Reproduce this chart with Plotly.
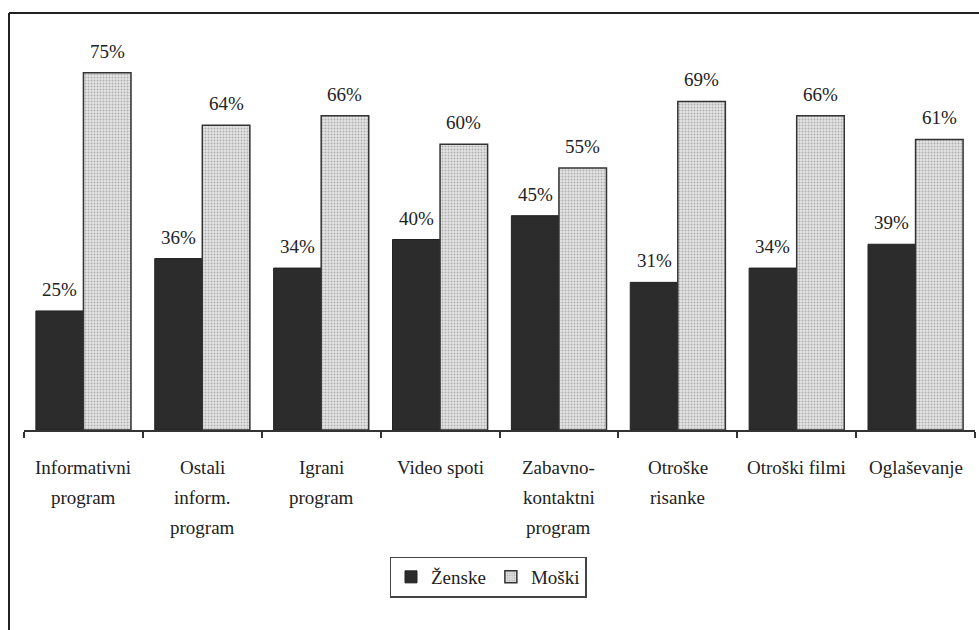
import plotly.graph_objects as go

categories = ["Informativni program", "Ostali inform. program", "Igrani program", "Video spoti",
              "Zabavno-kontaktni program", "Otroške risanke", "Otroški filmi", "Oglaševanje"]
label_lines = [["Informativni", "program"], ["Ostali", "inform.", "program"], ["Igrani", "program"],
               ["Video spoti"], ["Zabavno-", "kontaktni", "program"], ["Otroške", "risanke"],
               ["Otroški filmi"], ["Oglaševanje"]]
zenske = [25, 36, 34, 40, 45, 31, 34, 39]
moski = [75, 64, 66, 60, 55, 69, 66, 61]

FONT = "Times New Roman, Liberation Serif, DejaVu Serif, serif"
W, H = 979, 630
L, R, T, B = 24, 4, 49, 200
plot_w = W - L - R
plot_h = H - T - B

fig = go.Figure()
fig.add_trace(go.Bar(x=list(range(len(categories))), y=zenske, name="Ženske",
                     marker=dict(color="#2c2c2c", line=dict(color="#222222", width=1))))
fig.add_trace(go.Bar(x=list(range(len(categories))), y=moski, name="Moški",
                     marker=dict(color="#d6d6d6", line=dict(color="#333333", width=1.5),
                                 pattern=dict(shape=".", fgcolor="#7a7a7a", bgcolor="#e4e4e4",
                                              size=3, solidity=0.35))))

annotations = []
for i, (z, m) in enumerate(zip(zenske, moski)):
    for off, v in ((-0.2, z), (0.2, m)):
        annotations.append(dict(x=i + off, y=v, xref="x", yref="y", text=f"{v}%",
                                showarrow=False, yanchor="bottom", yshift=9,
                                font=dict(family=FONT, size=19, color="#222222")))
    for k, line in enumerate(label_lines[i]):
        annotations.append(dict(x=i, y=0, xref="x", yref="paper", text=line, showarrow=False,
                                yanchor="middle", yshift=-(37 + 30 * k),
                                font=dict(family=FONT, size=19, color="#222222")))

def px_x(p):
    return (p - L) / plot_w

def px_y(p):
    return (H - B - p) / plot_h

shapes = [
    dict(type="line", xref="paper", yref="paper", x0=px_x(9), x1=px_x(979), y0=px_y(13), y1=px_y(13),
         line=dict(color="#222222", width=2)),
    dict(type="line", xref="paper", yref="paper", x0=px_x(9), x1=px_x(9), y0=px_y(13), y1=px_y(630),
         line=dict(color="#222222", width=2)),
]

fig.update_layout(
    width=W, height=H,
    margin=dict(l=L, r=R, t=T, b=B),
    paper_bgcolor="white", plot_bgcolor="white",
    barmode="group", bargap=0.2, bargroupgap=0,
    font=dict(family=FONT, size=19, color="#222222"),
    showlegend=True,
    legend=dict(orientation="h", x=px_x(488), y=px_y(577), xanchor="center", yanchor="middle",
                bordercolor="#444444", borderwidth=1.5, bgcolor="white",
                font=dict(family=FONT, size=19, color="#222222"), itemwidth=30),
    annotations=annotations,
    shapes=shapes,
)
fig.update_xaxes(range=[-0.5, len(categories) - 0.5], showticklabels=False, showgrid=False,
                 showline=True, linecolor="#333333", linewidth=1.5,
                 tickmode="array", tickvals=[i - 0.5 for i in range(len(categories) + 1)],
                 ticks="outside", ticklen=6, tickcolor="#333333", tickwidth=1.5, zeroline=False)
fig.update_yaxes(range=[0, 80], visible=False)

fig.write_html("out.html")
